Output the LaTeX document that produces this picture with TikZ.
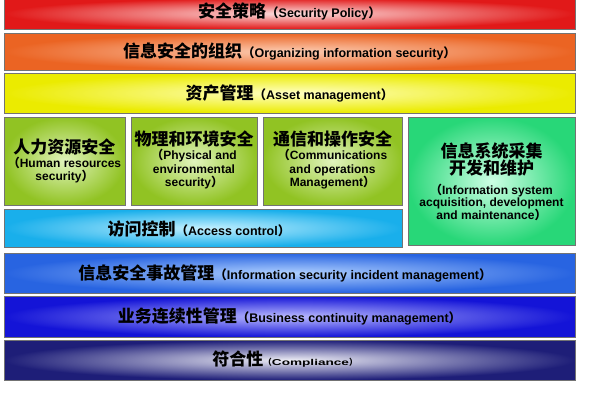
\documentclass[tikz,border=0pt]{standalone}
\usepackage{fontspec}
\setmainfont{Liberation Sans}
\newfontfamily\cjk{Noto Sans CJK SC}
\newfontfamily\enwide{Liberation Sans}[FakeStretch=1.6]
\newcommand\zhbig[1]{{\cjk\bfseries\fontsize{17}{19}\selectfont #1}}
\newcommand\zhgr[1]{{\cjk\bfseries\fontsize{17}{19}\selectfont #1}}
\newcommand\enx[1]{{\bfseries\fontsize{12.5}{15}\selectfont #1}}
\newcommand\eng[1]{{\bfseries\fontsize{12}{13}\selectfont #1}}
\newcommand\lpar{{\cjk （}}
\newcommand\rpar{{\cjk ）}}
\newcommand\lblfont{\fontsize{12}{13}\selectfont\lineskiplimit=-50pt\relax}
\definecolor{cRed}{RGB}{225,25,25}\definecolor{iRed}{RGB}{252,222,222}
\definecolor{cOra}{RGB}{235,100,35}\definecolor{iOra}{RGB}{252,205,180}
\definecolor{cYel}{RGB}{235,235,0}\definecolor{iYel}{RGB}{255,255,195}
\definecolor{cGrn}{RGB}{145,195,35}\definecolor{iGrn}{RGB}{225,244,190}
\definecolor{cMnt}{RGB}{40,215,120}\definecolor{iMnt}{RGB}{205,255,228}
\definecolor{cCya}{RGB}{25,175,235}\definecolor{iCya}{RGB}{195,240,255}
\definecolor{cBlu}{RGB}{40,100,225}\definecolor{iBlu}{RGB}{175,208,255}
\definecolor{cBbl}{RGB}{20,20,215}\definecolor{iBbl}{RGB}{185,185,255}
\definecolor{cNav}{RGB}{30,30,120}\definecolor{iNav}{RGB}{238,238,246}
\begin{document}
\begin{tikzpicture}[x=1pt,y=-1pt,
  box/.style={draw=black!55, line width=0.7pt},
  lbl/.style={align=center, inner sep=0pt, text=black, font=\lblfont}]
\useasboundingbox[fill=white] (0,0) rectangle (600,400);
% layers
\path[box, inner color=iRed, outer color=cRed] (4,-2) rectangle (575,29);
\path[box, inner color=iOra, outer color=cOra] (4,33) rectangle (575,70);
\path[box, inner color=iYel, outer color=cYel] (4,73) rectangle (575,113);
\path[box, inner color=iGrn, outer color=cGrn] (4,117) rectangle (125,205);
\path[box, inner color=iGrn, outer color=cGrn] (131,117) rectangle (257,205);
\path[box, inner color=iGrn, outer color=cGrn] (263,117) rectangle (402,205);
\path[box, inner color=iMnt, outer color=cMnt] (408,117) rectangle (575,245);
\path[box, inner color=iCya, outer color=cCya] (4,209) rectangle (402,247);
\path[box, inner color=iBlu, outer color=cBlu] (4,253) rectangle (575,293);
\path[box, inner color=iBbl, outer color=cBbl] (4,296) rectangle (575,337);
\path[box, inner color=iNav, outer color=cNav] (4,340) rectangle (575,380);
% labels
\node[lbl] (t1) at (289.5,11) {\zhbig{安全策略}\enx{\lpar Security Policy\rpar}};
\node[lbl] (t2) at (289.5,51.5) {\zhbig{信息安全的组织}\enx{\lpar Organizing information security\rpar}};
\node[lbl] (t3) at (289.5,93) {\zhbig{资产管理}\enx{\lpar Asset management\rpar}};
\node[lbl] (t4) at (64.5,161) {\zhgr{人力资源安全}\\[1pt]\eng{\lpar Human resources}\\[0.5pt]\eng{security\rpar}};
\node[lbl] (t5) at (194,160) {\zhgr{物理和环境安全}\\[1pt]\eng{\lpar Physical and}\\[0.5pt]\eng{environmental}\\[0.5pt]\eng{security\rpar}};
\node[lbl] (t6) at (332.5,160) {\zhgr{通信和操作安全}\\[1pt]\eng{\lpar Communications}\\[0.5pt]\eng{and operations}\\[0.5pt]\eng{Management\rpar}};
\node[lbl] (t7) at (491.5,181.5) {\zhgr{信息系统采集}\\[4pt]\zhgr{开发和维护}\\[7pt]\eng{\lpar Information system}\\[-0.5pt]\eng{acquisition, development}\\[-0.5pt]\eng{and maintenance\rpar}};
\node[lbl] (t8) at (199,229) {\zhgr{访问控制}\enx{\lpar Access control\rpar}};
\node[lbl] (t9) at (285,273) {\zhgr{信息安全事故管理}\enx{\lpar Information security incident management\rpar}};
\node[lbl] (t10) at (289.5,316.5) {\zhgr{业务连续性管理}\enx{\lpar Business continuity management\rpar}};
\node[lbl] (t11) at (285,359) {\zhgr{符合性}{\enwide\bfseries\fontsize{8.5}{10}\selectfont\lpar Compliance\rpar}};
\end{tikzpicture}
\end{document}
